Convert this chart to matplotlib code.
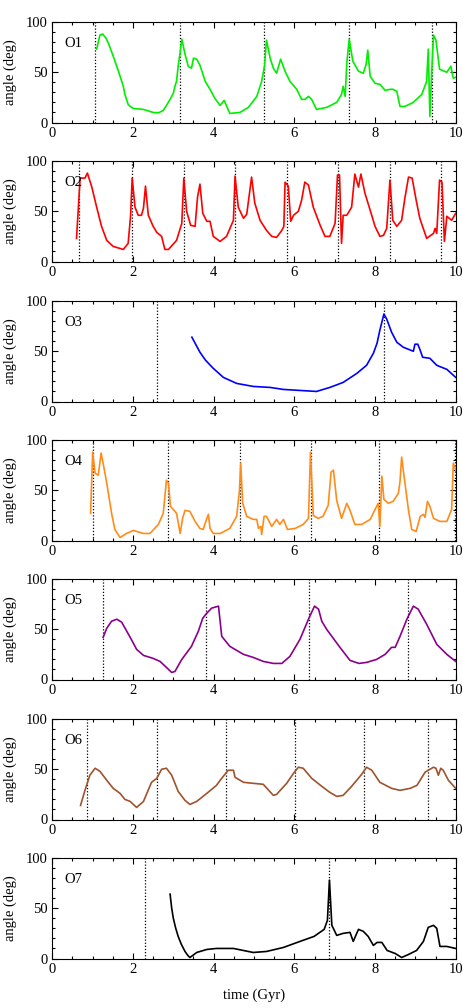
import matplotlib
matplotlib.use("Agg")
import matplotlib.pyplot as plt
from matplotlib.ticker import MultipleLocator

plt.rcParams['font.family'] = ['Liberation Serif', 'DejaVu Serif']

labels = ["O1", "O2", "O3", "O4", "O5", "O6", "O7"]
colors = ["#00ee00", "#ff0000", "#0000ff", "#ff8c1a", "#8b008b", "#a0522d", "#000000"]

o1_t = [1.10, 1.18, 1.25, 1.33, 1.39, 1.51, 1.64, 1.76, 1.80, 1.88, 1.93, 2.01, 2.26, 2.50, 2.63, 2.75, 2.83, 2.92, 3.00, 3.04, 3.08, 3.12, 3.17, 3.21, 3.29, 3.37, 3.45, 3.50, 3.58, 3.66, 3.79, 3.91, 4.03, 4.16, 4.26, 4.40, 4.65, 4.86, 5.07, 5.19, 5.26, 5.31, 5.40, 5.48, 5.56, 5.66, 5.77, 5.89, 6.06, 6.18, 6.26, 6.35, 6.43, 6.55, 6.80, 7.05, 7.17, 7.21, 7.26, 7.30, 7.36, 7.45, 7.59, 7.71, 7.78, 7.82, 7.88, 8.00, 8.12, 8.25, 8.37, 8.45, 8.54, 8.62, 8.74, 8.95, 9.16, 9.28, 9.32, 9.36, 9.40, 9.45, 9.51, 9.60, 9.78, 9.88, 9.94, 10.0]
o1_a = [73, 87, 88, 84, 79, 66, 51, 36, 28, 18, 16, 14, 13, 10, 9.6, 12, 17, 23, 29, 36, 41, 56, 70, 83, 68, 56, 54, 64, 63, 57, 41, 33, 24, 17, 22, 9, 10, 15, 26, 41, 56, 82, 64, 54, 49, 63, 51, 41, 33, 23, 23, 26, 23, 13, 15, 20, 28, 36, 26, 59, 83, 61, 51, 49, 58, 72, 46, 39, 38, 32, 33, 33, 31, 16, 16, 20, 28, 41, 73, 6, 46, 87, 82, 53, 50, 56, 44, 45]

o2_t = [0.60, 0.69, 0.77, 0.81, 0.87, 0.98, 1.10, 1.22, 1.35, 1.51, 1.76, 1.88, 1.94, 1.98, 2.05, 2.13, 2.21, 2.26, 2.31, 2.38, 2.50, 2.59, 2.71, 2.79, 2.88, 3.08, 3.21, 3.26, 3.33, 3.43, 3.54, 3.60, 3.66, 3.73, 3.83, 3.91, 3.99, 4.16, 4.32, 4.49, 4.53, 4.61, 4.74, 4.82, 4.94, 5.02, 5.15, 5.31, 5.44, 5.56, 5.69, 5.74, 5.77, 5.85, 5.91, 5.98, 6.10, 6.18, 6.26, 6.35, 6.47, 6.64, 6.76, 6.88, 7.01, 7.07, 7.12, 7.17, 7.21, 7.30, 7.42, 7.50, 7.59, 7.65, 7.75, 7.88, 8.00, 8.12, 8.21, 8.29, 8.37, 8.44, 8.54, 8.66, 8.74, 8.83, 8.92, 9.02, 9.11, 9.28, 9.45, 9.49, 9.53, 9.60, 9.66, 9.72, 9.78, 9.90, 10.0]
o2_a = [23, 83, 83, 83, 88, 74, 54, 35, 21, 15, 12, 18, 45, 83, 54, 46, 46, 53, 75, 46, 35, 29, 25, 12, 12, 21, 38, 83, 50, 36, 35, 64, 77, 48, 40, 40, 25, 20, 25, 41, 85, 54, 43, 47, 84, 58, 41, 31, 25, 24, 31, 35, 79, 75, 40, 46, 50, 61, 79, 76, 54, 36, 25, 25, 38, 86, 86, 18, 46, 46, 54, 87, 74, 87, 68, 51, 35, 25, 26, 33, 81, 41, 35, 41, 63, 84, 83, 61, 43, 23, 28, 33, 28, 81, 79, 20, 45, 41, 48]

o3_t = [3.46, 3.66, 3.80, 3.99, 4.24, 4.57, 4.98, 5.40, 5.73, 6.14, 6.55, 6.88, 7.21, 7.55, 7.79, 7.96, 8.05, 8.12, 8.22, 8.29, 8.41, 8.54, 8.70, 8.95, 8.99, 9.06, 9.12, 9.18, 9.36, 9.53, 9.78, 10.0]
o3_a = [64, 49, 41, 33, 24, 18, 15, 14, 12, 11, 10, 14, 19, 28, 36, 48, 58, 71, 87, 82, 69, 59, 54, 50, 57, 57, 51, 44, 43, 36, 32, 24]

o4_t = [0.95, 1.00, 1.06, 1.14, 1.21, 1.26, 1.35, 1.47, 1.55, 1.68, 1.84, 2.01, 2.26, 2.42, 2.63, 2.75, 2.83, 2.88, 2.93, 3.08, 3.17, 3.23, 3.29, 3.41, 3.54, 3.66, 3.74, 3.83, 3.87, 3.91, 3.99, 4.16, 4.40, 4.57, 4.64, 4.67, 4.72, 4.82, 4.98, 5.07, 5.11, 5.17, 5.19, 5.25, 5.31, 5.44, 5.56, 5.64, 5.73, 5.83, 6.02, 6.22, 6.35, 6.40, 6.47, 6.59, 6.71, 6.84, 6.91, 6.97, 7.05, 7.17, 7.30, 7.38, 7.50, 7.67, 7.88, 8.04, 8.08, 8.12, 8.17, 8.22, 8.33, 8.45, 8.58, 8.62, 8.66, 8.71, 8.83, 8.91, 9.02, 9.12, 9.20, 9.24, 9.30, 9.36, 9.45, 9.61, 9.78, 9.90, 9.94, 10.0]
o4_a = [27, 88, 67, 65, 87, 77, 57, 27, 11, 3, 7, 10, 7, 7, 16, 27, 60, 57, 34, 27, 7, 22, 30, 29, 19, 12, 11, 22, 26, 12, 7, 7, 12, 24, 50, 77, 37, 24, 21, 21, 12, 14, 6, 24, 24, 14, 21, 16, 21, 11, 12, 16, 22, 88, 25, 22, 24, 35, 68, 70, 40, 22, 37, 30, 16, 16, 21, 34, 37, 14, 64, 41, 37, 39, 47, 59, 83, 67, 30, 11, 9, 24, 26, 23, 39, 34, 22, 19, 19, 31, 77, 70]

o5_t = [1.26, 1.35, 1.47, 1.60, 1.72, 1.93, 2.09, 2.26, 2.50, 2.67, 2.83, 2.96, 3.04, 3.21, 3.45, 3.62, 3.73, 3.83, 3.95, 4.12, 4.20, 4.40, 4.74, 4.98, 5.23, 5.48, 5.69, 5.89, 6.14, 6.35, 6.50, 6.60, 6.68, 6.80, 7.13, 7.38, 7.60, 7.79, 8.04, 8.25, 8.41, 8.50, 8.62, 8.79, 8.95, 9.07, 9.28, 9.53, 9.78, 10.0]
o5_a = [42, 51, 58, 60, 57, 42, 30, 24, 21, 18, 12, 7, 8, 20, 33, 48, 61, 66, 71, 73, 43, 33, 25, 22, 18, 16, 16, 23, 40, 60, 73, 70, 58, 50, 32, 19, 16, 17, 20, 25, 32, 32, 43, 60, 73, 70, 55, 35, 25, 18]

o6_t = [0.70, 0.81, 0.93, 1.06, 1.18, 1.35, 1.51, 1.68, 1.80, 1.93, 2.09, 2.26, 2.46, 2.59, 2.71, 2.83, 2.96, 3.12, 3.29, 3.41, 3.58, 3.83, 4.07, 4.16, 4.36, 4.49, 4.53, 4.74, 4.98, 5.23, 5.48, 5.56, 5.81, 5.98, 6.10, 6.22, 6.43, 6.68, 6.88, 7.05, 7.21, 7.42, 7.67, 7.79, 7.92, 8.12, 8.41, 8.62, 8.87, 9.04, 9.24, 9.32, 9.45, 9.51, 9.57, 9.63, 9.69, 9.82, 10.0]
o6_a = [14, 29, 44, 51, 48, 39, 31, 26, 20, 18, 12, 18, 37, 41, 50, 51, 44, 28, 19, 15, 18, 26, 34, 39, 49, 49, 42, 37, 36, 35, 24, 25, 36, 46, 52, 51, 41, 33, 27, 23, 24, 33, 45, 52, 49, 37, 31, 29, 31, 34, 47, 49, 52, 51, 44, 51, 49, 39, 31]

o7_t = [2.92, 2.96, 3.00, 3.06, 3.12, 3.20, 3.29, 3.36, 3.41, 3.48, 3.58, 3.83, 4.07, 4.49, 4.98, 5.31, 5.73, 6.14, 6.49, 6.74, 6.82, 6.87, 6.93, 7.05, 7.21, 7.38, 7.46, 7.59, 7.71, 7.83, 7.96, 8.05, 8.17, 8.30, 8.50, 8.66, 8.83, 9.03, 9.20, 9.32, 9.45, 9.53, 9.61, 9.78, 10.0]
o7_a = [64, 50, 40, 30, 22, 14, 7, 3, 1, 3, 6, 9, 10, 10, 6, 7, 11, 17, 22, 29, 38, 78, 33, 23, 25, 26, 17, 29, 27, 22, 13, 16, 16, 8, 5, 1, 4, 8, 17, 31, 33, 30, 12, 12, 10]

vlines = [
    [1.07, 3.17, 5.26, 7.36, 9.42],
    [0.66, 1.98, 3.26, 4.53, 5.81, 7.07, 8.37, 9.64],
    [2.60, 8.23],
    [1.02, 2.86, 4.65, 6.41, 8.11, 9.98],
    [1.26, 3.82, 6.37, 8.82],
    [0.86, 2.60, 4.31, 6.02, 7.72, 9.32],
    [2.31, 6.87],
]

times = [o1_t, o2_t, o3_t, o4_t, o5_t, o6_t, o7_t]
angles = [o1_a, o2_a, o3_a, o4_a, o5_a, o6_a, o7_a]

W, H = 463, 1008
fig = plt.figure(figsize=(W / 100, H / 100), dpi=100)

left_px, right_px = 52.3, 455.7
tops = [22, 161, 301, 440, 579, 719, 858]
ph = 100.5

for i in range(7):
    top = tops[i]
    ax = fig.add_axes([left_px / W, 1 - (top + ph) / H, (right_px - left_px) / W, ph / H])
    for v in vlines[i]:
        ax.axvline(v, color='black', linestyle=(0, (1, 1.5)), linewidth=0.9, zorder=1)
    ax.plot(times[i], angles[i], color=colors[i], linewidth=1.2, zorder=2)
    ax.set_xlim(0, 10)
    ax.set_ylim(0, 100)
    ax.xaxis.set_major_locator(MultipleLocator(2))
    ax.xaxis.set_minor_locator(MultipleLocator(0.5))
    ax.yaxis.set_major_locator(MultipleLocator(50))
    ax.yaxis.set_minor_locator(MultipleLocator(10))
    ax.tick_params(which='both', direction='in', top=True, right=True, labelsize=10.5)
    ax.tick_params(which='major', length=4, width=0.8)
    ax.tick_params(which='minor', length=2.5, width=0.8)
    for s in ax.spines.values():
        s.set_linewidth(0.8)
    ax.set_ylabel("angle (deg)", fontsize=10.5, labelpad=6)
    ax.text(0.03, 0.79, labels[i], transform=ax.transAxes, fontsize=10.5, va='center', ha='left')
    if i == 6:
        ax.set_xlabel("time (Gyr)", fontsize=10.5, labelpad=9)

fig.savefig("out.png", dpi=100)
